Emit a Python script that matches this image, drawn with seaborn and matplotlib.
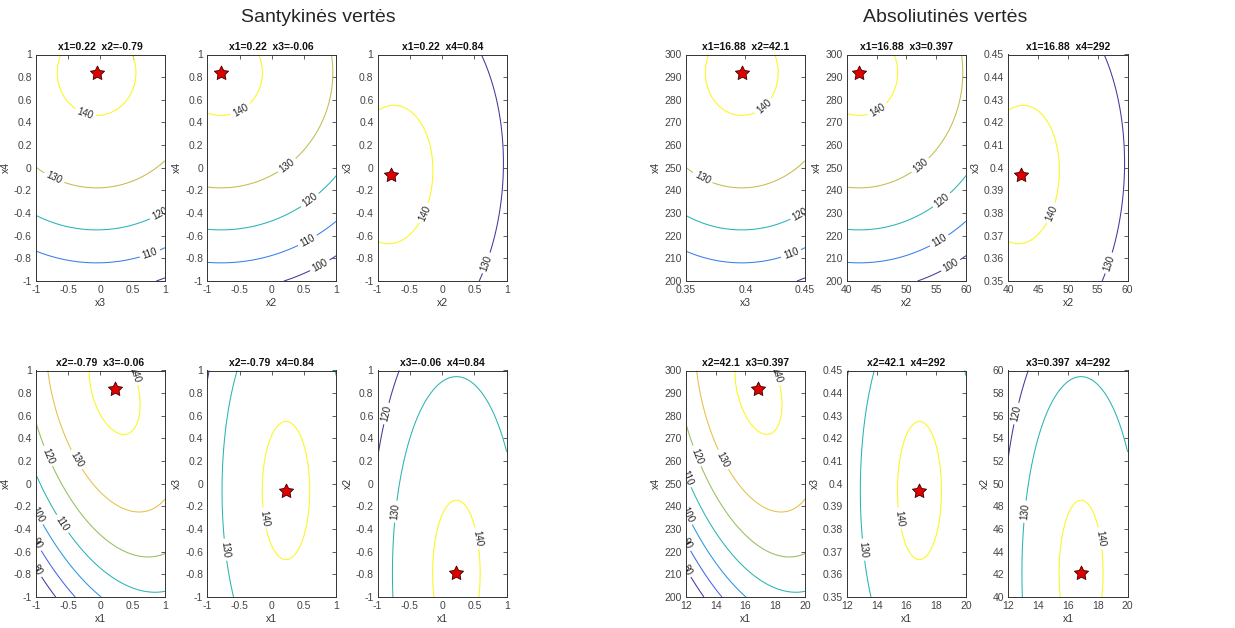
import numpy as np
import matplotlib
matplotlib.use('Agg')
import matplotlib.pyplot as plt
from matplotlib.colors import LinearSegmentedColormap, Normalize
import seaborn as sns

# optimum in coded units and peak response
x_opt = [0.22, -0.79, -0.06, 0.84]
y_max = 141.6
# curvature of the fitted quadratic surface (coded units)
curv = [[11.8, 0.0, 0.0, 4.1],
        [0.0, 3.85, -0.25, 0.0],
        [0.0, -0.25, 4.3, 0.0],
        [4.1, 0.0, 0.0, 11.2]]
levels = [80, 90, 100, 110, 120, 130, 140]

# coded -> absolute values
centers = [16, 50, 0.4, 250]
halfranges = [4, 10, 0.05, 50]

# (x variable, y variable) of every panel, other two held at optimum
pairs = [(2, 3), (1, 3), (1, 2), (0, 3), (0, 2), (0, 1)]

coded_xticks = [-1, -0.5, 0, 0.5, 1]
coded_yticks = [-1, -0.8, -0.6, -0.4, -0.2, 0, 0.2, 0.4, 0.6, 0.8, 1]
abs_xticks = {0: [12, 14, 16, 18, 20], 1: [40, 45, 50, 55, 60], 2: [0.35, 0.4, 0.45]}
abs_yticks = {1: [40, 42, 44, 46, 48, 50, 52, 54, 56, 58, 60],
              2: [0.35, 0.36, 0.37, 0.38, 0.39, 0.4, 0.41, 0.42, 0.43, 0.44, 0.45],
              3: [200, 210, 220, 230, 240, 250, 260, 270, 280, 290, 300]}

group_titles = ['Santykinės vertės', 'Absoliutinės vertės']

sns.set_style('white')
plt.rcParams['font.family'] = ['Liberation Sans', 'DejaVu Sans']
plt.rcParams['axes.unicode_minus'] = False

parula = LinearSegmentedColormap.from_list('parula', [
    (0.00, (0.26, 0.22, 0.62)),
    (0.15, (0.27, 0.38, 0.92)),
    (0.30, (0.18, 0.56, 0.92)),
    (0.45, (0.10, 0.68, 0.78)),
    (0.55, (0.22, 0.73, 0.62)),
    (0.68, (0.62, 0.75, 0.33)),
    (0.82, (0.90, 0.73, 0.30)),
    (1.00, (0.98, 0.97, 0.10))])

W, H = 1235, 628
fig = plt.figure(figsize=(W / 100, H / 100), dpi=100)

col_left = [[36, 207.3, 377.7], [685.7, 846.7, 1008.3]]
col_width = [129, 119.3]
row_top = [54.5, 370.5]
row_h = 226.5

A = np.array(curv)
xo = np.array(x_opt)
c = np.linspace(-1, 1, 301)

for g in range(2):
    for k, (i, j) in enumerate(pairs):
        r, col = divmod(k, 3)
        left = col_left[g][col]
        ax = fig.add_axes([left / W, 1 - (row_top[r] + row_h) / H,
                           col_width[g] / W, row_h / H])
        Xc, Yc = np.meshgrid(c, c)
        di, dj = Xc - xo[i], Yc - xo[j]
        Z = y_max - (A[i, i] * di ** 2 + 2 * A[i, j] * di * dj + A[j, j] * dj ** 2)
        present = [l for l in levels if Z.min() < l < Z.max()]
        norm = Normalize(min(present), max(present))
        if g == 0:
            X, Y = Xc, Yc
            px, py = xo[i], xo[j]
        else:
            X = centers[i] + halfranges[i] * Xc
            Y = centers[j] + halfranges[j] * Yc
            px = centers[i] + halfranges[i] * xo[i]
            py = centers[j] + halfranges[j] * xo[j]
        cs = ax.contour(X, Y, Z, levels=present, cmap=parula, norm=norm,
                        linewidths=0.75)
        ax.clabel(cs, fmt='%d', fontsize=7, inline=True, inline_spacing=3,
                  colors='#222222')
        sns.scatterplot(x=[px], y=[py], ax=ax, marker=(5, 1, 0), s=115,
                        color='#e00000', edgecolor='#3a0000', linewidth=0.6,
                        zorder=5, legend=False)
        others = [m for m in range(4) if m not in (i, j)]
        if g == 0:
            vals = [x_opt[m] for m in others]
            ax.set_xlim(-1, 1)
            ax.set_ylim(-1, 1)
            ax.set_xticks(coded_xticks)
            ax.set_yticks(coded_yticks)
        else:
            vals = [round(centers[m] + halfranges[m] * x_opt[m], 3) for m in others]
            ax.set_xlim(centers[i] - halfranges[i], centers[i] + halfranges[i])
            ax.set_ylim(centers[j] - halfranges[j], centers[j] + halfranges[j])
            ax.set_xticks(abs_xticks[i])
            ax.set_yticks(abs_yticks[j])
        ax.xaxis.set_major_formatter(matplotlib.ticker.FormatStrFormatter('%g'))
        ax.yaxis.set_major_formatter(matplotlib.ticker.FormatStrFormatter('%g'))
        title = '  '.join('x%d=%g' % (m + 1, v) for m, v in zip(others, vals))
        ax.set_title(title, fontsize=7.5, fontweight='bold', pad=3, color='#111111')
        ax.set_xlabel('x%d' % (i + 1), fontsize=7.5, labelpad=2, color='#333333')
        ax.set_ylabel('x%d' % (j + 1), fontsize=7.5, labelpad=2, color='#333333')
        ax.tick_params(direction='in', length=3, width=0.6, labelsize=7.5,
                       colors='#444444', top=True, right=True, pad=3)
        for s in ax.spines.values():
            s.set_linewidth(0.7)
            s.set_color('#333333')
            s.set_visible(True)

fig.text(318 / W, 1 - 18 / H, group_titles[0], fontsize=14, ha='center', va='center')
fig.text(945 / W, 1 - 18 / H, group_titles[1], fontsize=14, ha='center', va='center')

fig.savefig('out.png', dpi=100, facecolor='white')
